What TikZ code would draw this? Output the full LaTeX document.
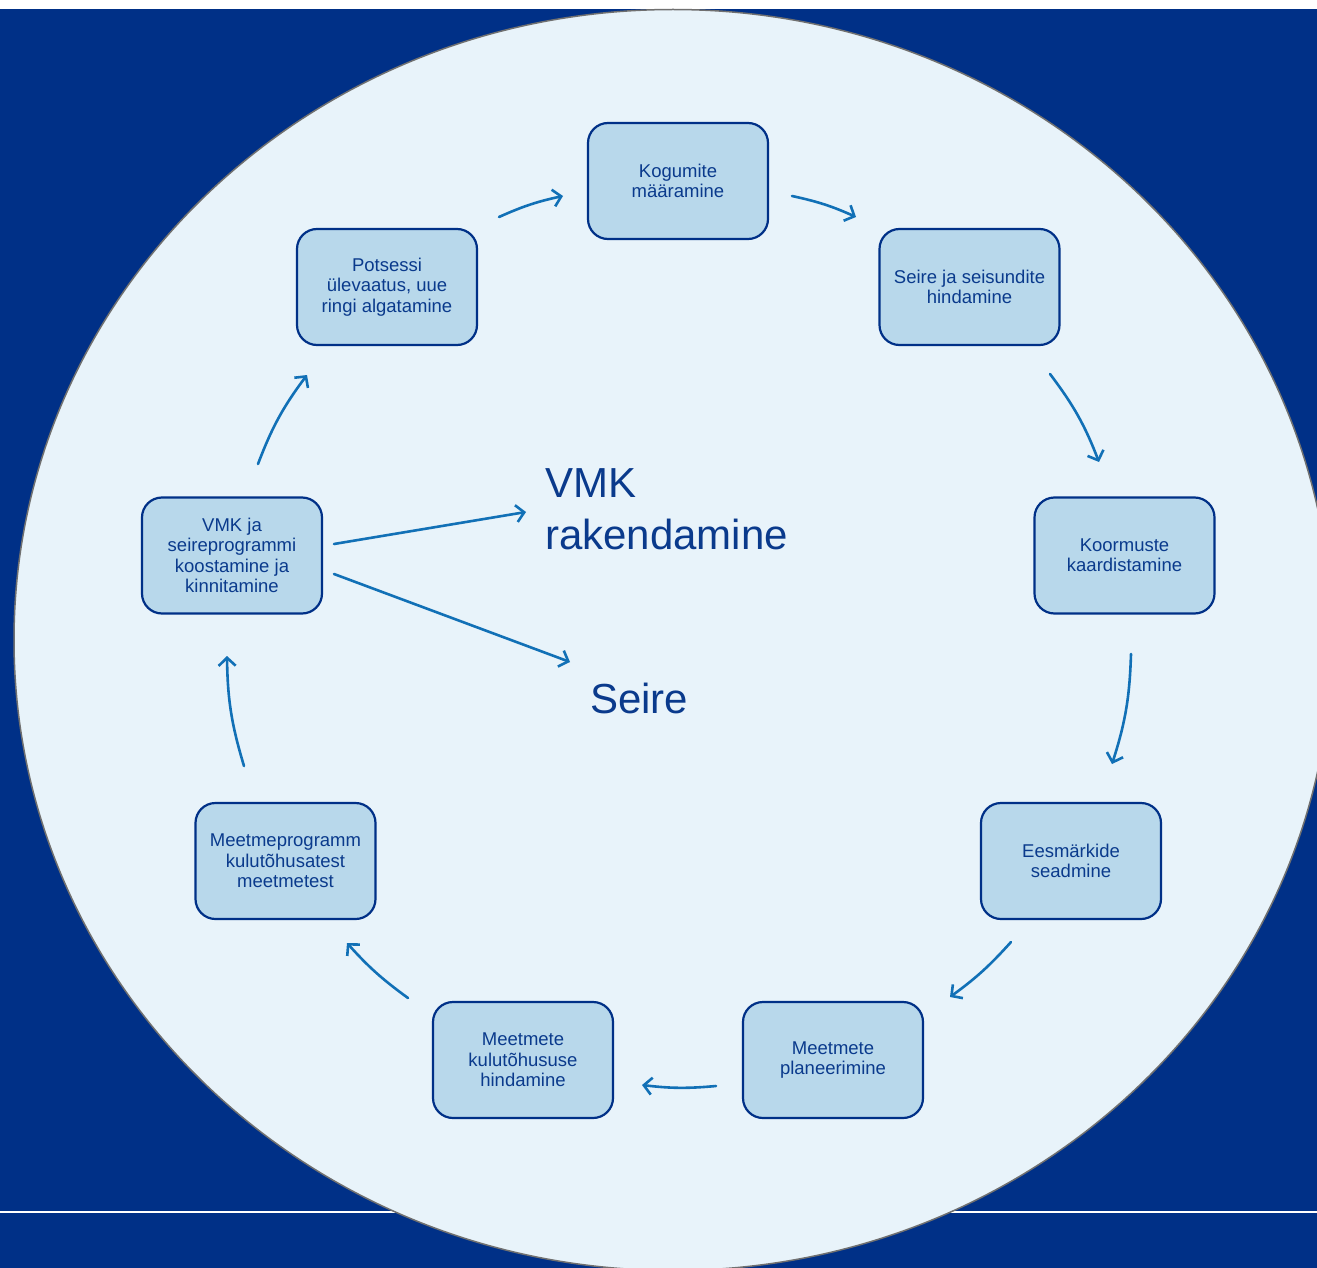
\documentclass[tikz,border=0pt]{standalone}
\usepackage{fontspec}
\setmainfont{Liberation Sans}
\usetikzlibrary{arrows.meta}
\definecolor{bgblue}{HTML}{003087}
\definecolor{circfill}{HTML}{E8F3FA}
\definecolor{boxfill}{HTML}{B8D8EB}
\definecolor{txtblue}{HTML}{0A3A8C}
\definecolor{arrblue}{HTML}{1170B6}
\definecolor{rimgray}{HTML}{707070}
\begin{document}
\begin{tikzpicture}[x=1pt,y=-1pt,
  stepbox/.style={draw=bgblue, line width=2.2pt, fill=boxfill, rounded corners=20pt,
    minimum width=180pt, minimum height=116pt, align=center, text=txtblue,
    font=\fontsize{18.5}{20.3}\selectfont, inner sep=4pt},
  flow/.style={draw=arrblue, line width=2.6pt, line cap=round,
    -{Straight Barb[length=8pt,width=17pt]}},
  biglabel/.style={text=txtblue, font=\fontsize{42}{52}\selectfont, inner sep=0pt, align=left}]
\useasboundingbox (0,0) rectangle (1317,1268);
\clip (0,0) rectangle (1317,1268);
\fill[white] (0,0) rectangle (1317,1268);
\fill[bgblue] (0,9) rectangle (1317,1268);
\draw[white, line width=2.5pt] (0,1212) -- (1317,1212);
\filldraw[fill=circfill, draw=rimgray, line width=1.5pt] (673,640) ellipse [x radius=659pt, y radius=630.5pt];

% boxes
\node[stepbox] (kog) at (678,181) {Kogumite\\määramine};
\node[stepbox] (sei) at (969.5,287) {Seire ja seisundite\\hindamine};
\node[stepbox] (koo) at (1124.5,555.5) {Koormuste\\kaardistamine};
\node[stepbox] (ees) at (1071,861) {Eesmärkide\\seadmine};
\node[stepbox] (pla) at (833,1060) {Meetmete\\planeerimine};
\node[stepbox] (kul) at (523,1060) {Meetmete\\kulutõhususe\\hindamine};
\node[stepbox] (mpr) at (285.5,861) {Meetmeprogramm\\kulutõhusatest\\meetmetest};
\node[stepbox] (vmk) at (232,555.5) {VMK ja\\seireprogrammi\\koostamine ja\\kinnitamine};
\node[stepbox] (pot) at (387,287) {Potsessi\\ülevaatus, uue\\ringi algatamine};

% big labels
\node[biglabel, anchor=north west] (rak) at (545,468) {VMK\\rakendamine};
\node[biglabel, anchor=base west] (sre) at (590,713) {Seire};

% arrow end points
\coordinate (a1s) at (499,217);  \coordinate (a1e) at (563,196);
\coordinate (a2s) at (792,196);  \coordinate (a2e) at (856,217);
\coordinate (a3s) at (1050,374); \coordinate (a3e) at (1099,462);
\coordinate (a4s) at (1131,654); \coordinate (a4e) at (1112,764);
\coordinate (a5s) at (1011,942); \coordinate (a5e) at (950,997);
\coordinate (a6s) at (716,1086); \coordinate (a6e) at (642,1085);
\coordinate (a7s) at (408,998);  \coordinate (a7e) at (347,943);
\coordinate (a8s) at (244,766);  \coordinate (a8e) at (227,656);
\coordinate (a9s) at (258,464);  \coordinate (a9e) at (307,375);
\coordinate (b1s) at (334,544);  \coordinate (b1e) at (526,512);
\coordinate (b2s) at (334,574);  \coordinate (b2e) at (570,662);

\draw[flow] (a1s) to[bend left=6] (a1e);
\draw[flow] (a2s) to[bend left=6] (a2e);
\draw[flow] (a3s) to[bend left=8] (a3e);
\draw[flow] (a4s) to[bend left=8] (a4e);
\draw[flow] (a5s) to[bend left=6] (a5e);
\draw[flow] (a6s) to[bend left=6] (a6e);
\draw[flow] (a7s) to[bend left=6] (a7e);
\draw[flow] (a8s) to[bend left=8] (a8e);
\draw[flow] (a9s) to[bend left=8] (a9e);
\draw[flow] (b1s) -- (b1e);
\draw[flow] (b2s) -- (b2e);
\end{tikzpicture}
\end{document}
